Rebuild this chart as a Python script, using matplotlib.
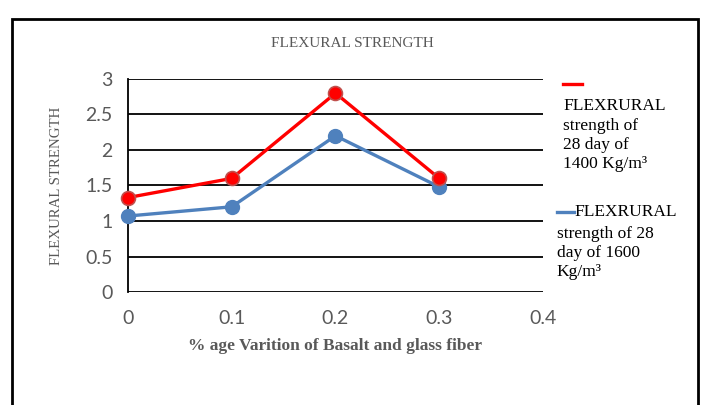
import matplotlib
matplotlib.use("Agg")
import matplotlib.pyplot as plt
from matplotlib.lines import Line2D
from matplotlib.patches import Rectangle

# data
fiber = [0, 0.1, 0.2, 0.3]
s1400 = [1.33, 1.6, 2.8, 1.6]
s1600 = [1.07, 1.2, 2.2, 1.48]
xticks = [0, 0.1, 0.2, 0.3, 0.4]
yticks = [0, 0.5, 1, 1.5, 2, 2.5, 3]

RED = "#FF0000"
BLUE = "#4F81BD"
GRAY = "#595959"
serif = ["Liberation Serif", "DejaVu Serif"]
sans = ["Lato", "DejaVu Sans"]

fig = plt.figure(figsize=(7.04, 4.05), dpi=100)
ax = fig.add_axes([0.1818, 0.279, 0.5895, 0.526])

# outer frame of the chart
fig.patches.append(Rectangle((0.017, -0.02), 0.9745, 0.973, transform=fig.transFigure,
                             fill=False, edgecolor="black", linewidth=2))

ax.plot(fiber, s1400, color=RED, lw=2.4, marker="o", ms=10, clip_on=False,
        markerfacecolor=RED, markeredgecolor="#C0504D", markeredgewidth=1.2, zorder=4)
ax.plot(fiber, s1600, color=BLUE, lw=2.4, marker="o", ms=10, clip_on=False,
        markerfacecolor=BLUE, markeredgecolor=BLUE, zorder=3)

ax.set_xlim(0, 0.4)
ax.set_ylim(0, 3)
ax.set_xticks(xticks)
ax.set_yticks(yticks)
ax.set_xticklabels([("%g" % v) for v in xticks], family=sans, fontsize=14, color=GRAY)
ax.set_yticklabels([("%g" % v) for v in yticks], family=sans, fontsize=14, color=GRAY)
ax.tick_params(length=0, pad=11)
ax.tick_params(axis="x", pad=13)
ax.grid(axis="y", color="black", lw=1.3)
ax.set_axisbelow(True)
for s in ["top", "right", "bottom"]:
    ax.spines[s].set_visible(False)
ax.spines["left"].set_linewidth(1.3)

ax.set_xlabel("% age Varition of Basalt and glass fiber", family=serif, fontsize=12.5,
              fontweight="bold", color=GRAY, labelpad=8)
ax.set_ylabel("FLEXURAL STRENGTH", family=serif, fontsize=10.7, color=GRAY, labelpad=16)
fig.text(0.5, 0.893, "FLEXURAL STRENGTH", family=serif, fontsize=11, color=GRAY,
         ha="center", va="center")

# legend drawn by hand to match the wrapped text layout
fig.add_artist(Line2D([0.800, 0.826], [0.792, 0.792], color=RED, lw=2.4,
                      transform=fig.transFigure))
fig.text(0.800, 0.757, "FLEXRURAL\nstrength of\n28 day of\n1400 Kg/m³", family=serif,
         fontsize=12.5, color="black", ha="left", va="top", linespacing=1.26)
fig.add_artist(Line2D([0.791, 0.815], [0.477, 0.477], color=BLUE, lw=2.4,
                      transform=fig.transFigure))
fig.text(0.816, 0.477, "FLEXRURAL", family=serif, fontsize=12.5, color="black",
         ha="left", va="center")
fig.text(0.791, 0.443, "strength of 28\nday of 1600\nKg/m³", family=serif,
         fontsize=12.5, color="black", ha="left", va="top", linespacing=1.26)

fig.savefig("out.png", dpi=100)
